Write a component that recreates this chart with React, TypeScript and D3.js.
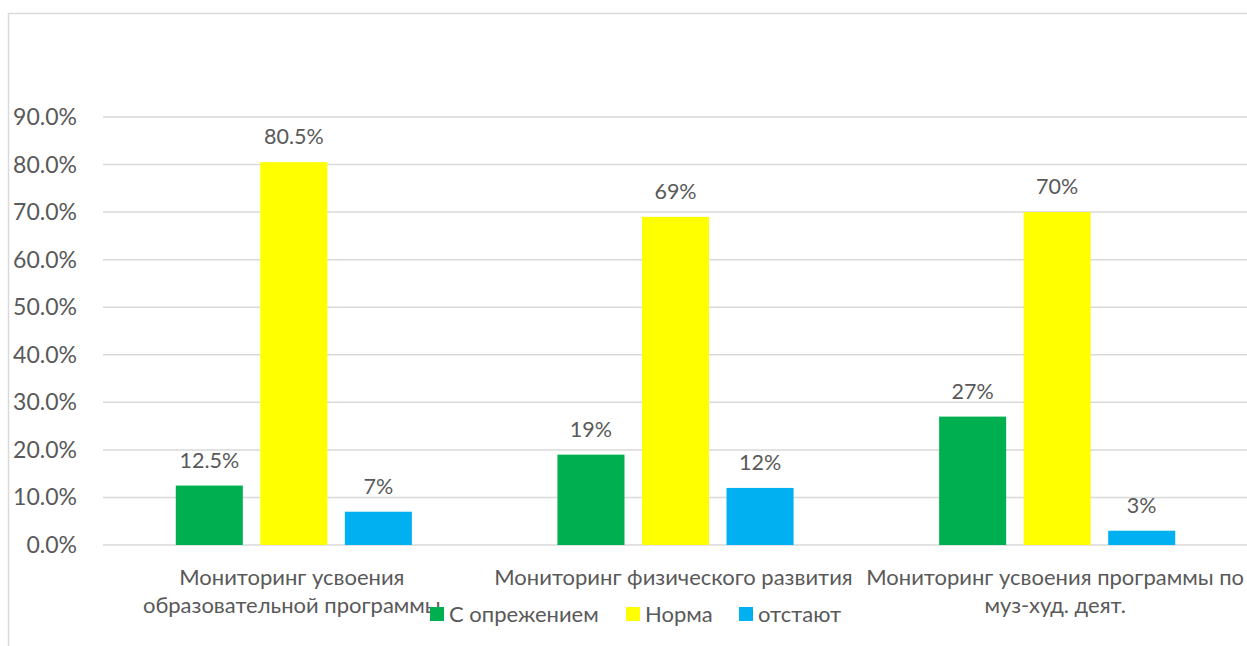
import React from "react";
import * as d3 from "d3";

const categories: string[][] = [
  ["Мониторинг усвоения", "образовательной программы"],
  ["Мониторинг физического развития"],
  ["Мониторинг усвоения программы по", "муз-худ. деят."],
];
const seriesNames = ["С опрежением", "Норма", "отстают"];
const seriesColors = ["#00b050", "#ffff00", "#00b0f0"];
const advanced = [0.125, 0.19, 0.27];
const normal = [0.805, 0.69, 0.7];
const behind = [0.07, 0.12, 0.03];
const yTicks = [0, 0.1, 0.2, 0.3, 0.4, 0.5, 0.6, 0.7, 0.8, 0.9];

const W = 1247;
const H = 646;
const FONT = "Lato, 'Noto Sans', sans-serif";
const TEXT = "#595959";

export default function App() {
  const series = [advanced, normal, behind];
  const plotLeft = 103;
  const plotRight = 1248;
  const y = d3.scaleLinear().domain([0, 0.9]).range([545, 117]);
  const x0 = d3
    .scaleBand<number>()
    .domain(categories.map((_, i) => i))
    .range([plotLeft, plotRight])
    .padding(0);
  const x1 = d3
    .scaleBand<number>()
    .domain(seriesNames.map((_, i) => i))
    .range([0, x0.bandwidth()])
    .paddingInner(0.207)
    .paddingOuter(0.861);
  const fmt = (v: number) =>
    Math.abs(v * 100 - Math.round(v * 100)) < 1e-9 ? d3.format(".0%")(v) : d3.format(".1%")(v);
  const axisFmt = d3.format(".1%");

  const legendItems = [
    { x: 430, label: seriesNames[0] },
    { x: 626, label: seriesNames[1] },
    { x: 739, label: seriesNames[2] },
  ];

  return (
    <svg
      width={W}
      height={H}
      style={{ position: "absolute", left: 0, top: 0, background: "#fff" }}
      fontFamily={FONT}
    >
      <rect x={8.5} y={13.5} width={1300} height={700} fill="#fff" stroke="#d9d9d9" strokeWidth={1.5} />
      {yTicks.map((t) => (
        <g key={t}>
          <line x1={plotLeft} x2={plotRight} y1={y(t)} y2={y(t)} stroke="#d9d9d9" strokeWidth={1.5} />
          <text x={77} y={y(t)} dy="0.35em" textAnchor="end" fontSize={23} fill={TEXT}>
            {axisFmt(t)}
          </text>
        </g>
      ))}
      {series.map((vals, si) =>
        vals.map((v, ci) => {
          const bx = (x0(ci) as number) + (x1(si) as number);
          return (
            <g key={`${si}-${ci}`}>
              <rect x={bx} y={y(v)} width={x1.bandwidth()} height={y(0) - y(v)} fill={seriesColors[si]} />
              <text
                x={bx + x1.bandwidth() / 2}
                y={y(v) - 18}
                textAnchor="middle"
                fontSize={21.5}
                fill={TEXT}
              >
                {fmt(v)}
              </text>
            </g>
          );
        })
      )}
      {categories.map((lines, ci) => {
        const cx = (x0(ci) as number) + x0.bandwidth() / 2 - 2;
        return (
          <text key={ci} x={cx} textAnchor="middle" fontSize={22} fill={TEXT}>
            {lines.map((l, li) => (
              <tspan key={li} x={cx} y={585 + li * 28}>
                {l}
              </tspan>
            ))}
          </text>
        );
      })}
      {legendItems.map((it, i) => (
        <g key={i}>
          <rect x={it.x} y={607} width={14} height={14} fill={seriesColors[i]} />
          <text x={it.x + 19} y={614} dy="0.35em" fontSize={22} fill={TEXT}>
            {it.label}
          </text>
        </g>
      ))}
    </svg>
  );
}
